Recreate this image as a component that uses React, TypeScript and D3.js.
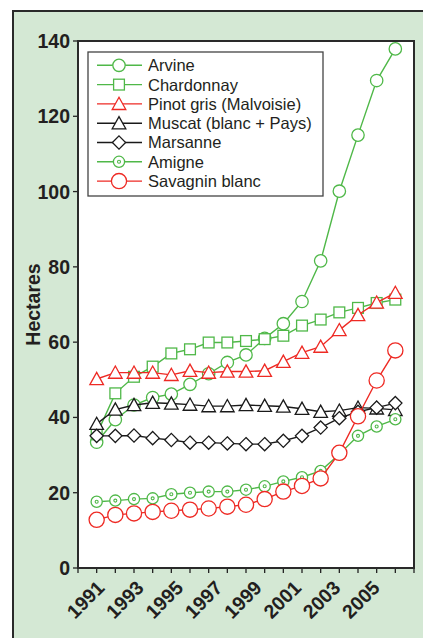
import React, {useEffect, useRef} from 'react';
import * as d3 from 'd3';

// years 1991..2007, one point per year
const years = d3.range(1991, 2008);
const tickYears = [1991, 1993, 1995, 1997, 1999, 2001, 2003, 2005];
const yTicks = [0, 20, 40, 60, 80, 100, 120, 140];

const arvine = [33.4, 39.4, 43.3, 45.3, 46.2, 48.8, 51.6, 54.6, 56.6, 61.0, 64.9, 70.8, 81.6, 100.1, 115.0, 129.5, 137.9];
const chardonnay = [35.5, 46.4, 50.8, 53.5, 57.0, 58.1, 59.9, 59.9, 60.3, 60.8, 61.7, 64.4, 66.0, 67.9, 69.1, 70.4, 71.3];
const pinotGris = [50.2, 51.9, 51.9, 51.9, 51.3, 52.4, 51.9, 52.2, 52.2, 52.4, 54.8, 57.2, 58.8, 63.2, 67.2, 70.5, 73.1];
const muscat = [38.3, 42.1, 43.3, 43.9, 43.7, 43.4, 43.0, 43.0, 43.3, 43.1, 42.9, 42.3, 41.5, 41.8, 42.6, 42.4, 42.0];
const marsanne = [35.1, 35.1, 35.2, 34.5, 34.0, 33.3, 33.3, 33.1, 32.9, 32.9, 33.8, 35.1, 37.3, 39.8, 41.5, 42.6, 43.8];
const amigne = [17.6, 17.9, 18.3, 18.5, 19.6, 20.0, 20.3, 20.3, 20.8, 21.7, 23.0, 24.1, 25.8, 30.2, 35.1, 37.6, 39.5];
const savagnin = [12.8, 14.1, 14.5, 14.9, 15.2, 15.5, 15.8, 16.3, 16.8, 18.3, 20.3, 21.8, 23.8, 30.6, 40.3, 49.8, 57.8];

const GREEN = '#4fb848';
const RED = '#ee2a24';
const BLACK = '#1a1a1a';

type Marker = 'circle' | 'square' | 'triangle' | 'diamond' | 'dotcircle' | 'bigcircle';

const series: {name: string, values: number[], color: string, marker: Marker}[] = [
  {name: 'Arvine', values: arvine, color: GREEN, marker: 'circle'},
  {name: 'Chardonnay', values: chardonnay, color: GREEN, marker: 'square'},
  {name: 'Pinot gris (Malvoisie)', values: pinotGris, color: RED, marker: 'triangle'},
  {name: 'Muscat (blanc + Pays)', values: muscat, color: BLACK, marker: 'triangle'},
  {name: 'Marsanne', values: marsanne, color: BLACK, marker: 'diamond'},
  {name: 'Amigne', values: amigne, color: GREEN, marker: 'dotcircle'},
  {name: 'Savagnin blanc', values: savagnin, color: RED, marker: 'bigcircle'},
];

function drawMarker(g: any, marker: Marker, color: string) {
  const common = (sel: any) => sel.attr('fill', '#fff')
      .attr('stroke', color)
      .attr('stroke-width', 1.3);
  if (marker === 'circle') {
    g.append('circle').attr('r', 6.2).call(common);
  } else if (marker === 'bigcircle') {
    g.append('circle').attr('r', 7.6).call(common);
  } else if (marker === 'dotcircle') {
    g.append('circle').attr('r', 5.6).call(common);
    g.append('circle').attr('r', 1.5).attr('fill', 'none')
        .attr('stroke', color).attr('stroke-width', 1.1);
  } else if (marker === 'square') {
    g.append('rect').attr('x', -5.4).attr('y', -5.4)
        .attr('width', 10.8).attr('height', 10.8).call(common);
  } else if (marker === 'triangle') {
    g.append('path').attr('d', 'M0,-6.6L6.8,5.6L-6.8,5.6Z').call(common);
  } else if (marker === 'diamond') {
    g.append('path').attr('d', 'M0,-6.6L6.6,0L0,6.6L-6.6,0Z').call(common);
  }
}

export default function App() {
  const ref = useRef<SVGSVGElement>(null);

  useEffect(() => {
    const svg = d3.select(ref.current);
    svg.selectAll('*').remove();

    const left = 78;
    const right = 414;
    const top = 41;
    const bottom = 568;

    const x = d3.scaleLinear().domain([1990, 2008]).range([left, right]);
    const y = d3.scaleLinear().domain([0, 140]).range([bottom, top]);
    // rotated year labels drift slightly from the ticks in the original
    const xLabel = d3.scaleLinear().domain([1991, 2005])
        .range([x(1991) + 9, x(2005) + 23]);

    // green panel
    svg.append('rect')
        .attr('x', 13).attr('y', 11)
        .attr('width', 440).attr('height', 660)
        .attr('fill', '#d4e8d4')
        .attr('stroke', '#2a2a2a')
        .attr('stroke-width', 2);

    // plot area
    svg.append('rect')
        .attr('x', left).attr('y', top)
        .attr('width', right - left).attr('height', bottom - top)
        .attr('fill', '#fff');

    // y axis ticks and labels
    const yAxis = svg.append('g');
    yTicks.forEach((t) => {
      yAxis.append('line')
          .attr('x1', left - 5).attr('x2', left)
          .attr('y1', y(t)).attr('y2', y(t))
          .attr('stroke', '#222').attr('stroke-width', 1.3);
      yAxis.append('text')
          .attr('x', left - 8).attr('y', y(t))
          .attr('dy', '0.36em')
          .attr('text-anchor', 'end')
          .attr('font-family', 'Liberation Sans, Arial, sans-serif')
          .attr('font-weight', 'bold')
          .attr('font-size', 19.5)
          .attr('fill', '#231f20')
          .text(t);
    });

    svg.append('text')
        .attr('transform', `translate(40,${(top + bottom) / 2}) rotate(-90)`)
        .attr('text-anchor', 'middle')
        .attr('font-family', 'Liberation Sans, Arial, sans-serif')
        .attr('font-weight', 'bold')
        .attr('font-size', 19.5)
        .attr('fill', '#231f20')
        .text('Hectares');

    // x axis ticks and labels
    const xAxis = svg.append('g');
    d3.range(1990, 2009).forEach((t) => {
      xAxis.append('line')
          .attr('x1', x(t)).attr('x2', x(t))
          .attr('y1', bottom).attr('y2', bottom + 5)
          .attr('stroke', '#222').attr('stroke-width', 1.3);
    });
    tickYears.forEach((t) => {
      xAxis.append('text')
          .attr('transform', `translate(${xLabel(t)},${bottom + 21}) rotate(-45)`)
          .attr('text-anchor', 'end')
          .attr('font-family', 'Liberation Sans, Arial, sans-serif')
          .attr('font-weight', 'bold')
          .attr('font-size', 19.5)
          .attr('fill', '#231f20')
          .text(t);
    });

    // series
    const line = d3.line<number>()
        .x((d, i) => x(years[i]))
        .y((d) => y(d));

    series.forEach((s) => {
      const g = svg.append('g');
      g.append('path')
          .attr('d', line(s.values))
          .attr('fill', 'none')
          .attr('stroke', s.color)
          .attr('stroke-width', 1.4);
      s.values.forEach((v, i) => {
        const m = g.append('g')
            .attr('transform', `translate(${x(years[i])},${y(v)})`);
        drawMarker(m, s.marker, s.color);
      });
    });

    // plot frame
    svg.append('rect')
        .attr('x', left).attr('y', top)
        .attr('width', right - left).attr('height', bottom - top)
        .attr('fill', 'none')
        .attr('stroke', '#2a2a2a')
        .attr('stroke-width', 2);

    // legend
    const lx = 88;
    const ly = 52;
    const legend = svg.append('g');
    legend.append('rect')
        .attr('x', lx).attr('y', ly)
        .attr('width', 235).attr('height', 144)
        .attr('fill', '#fff')
        .attr('stroke', '#444')
        .attr('stroke-width', 1.3);
    series.forEach((s, i) => {
      const cy = ly + 13.3 + i * 19.3;
      legend.append('line')
          .attr('x1', lx + 9).attr('x2', lx + 54)
          .attr('y1', cy).attr('y2', cy)
          .attr('stroke', s.color).attr('stroke-width', 1.4);
      const m = legend.append('g')
          .attr('transform', `translate(${lx + 31},${cy})`);
      drawMarker(m, s.marker, s.color);
      legend.append('text')
          .attr('x', lx + 60).attr('y', cy)
          .attr('dy', '0.36em')
          .attr('font-family', 'Liberation Sans, Arial, sans-serif')
          .attr('font-size', 16.5)
          .attr('fill', '#231f20')
          .text(s.name);
    });
  }, []);

  return (
    <svg ref={ref} width={423} height={638}
      style={{position: 'absolute', left: 0, top: 0, background: '#fff'}} />
  );
}
